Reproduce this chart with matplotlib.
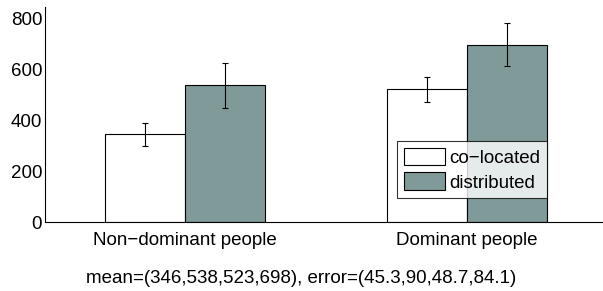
import matplotlib.pyplot as plt
import numpy as np
from matplotlib.patches import Patch

plt.rcParams['font.family'] = ['Liberation Sans', 'DejaVu Sans']

groups = ['Non\u2212dominant people', 'Dominant people']
series = ['co\u2212located', 'distributed']
means = {'co\u2212located': [346, 523], 'distributed': [538, 698]}
errors = {'co\u2212located': [45.3, 48.7], 'distributed': [90, 84.1]}
colors = {'co\u2212located': 'white', 'distributed': '#7f9a98'}
caption = 'mean=(346,538,523,698), error=(45.3,90,48.7,84.1)'

fig = plt.figure(figsize=(6.03, 2.91), dpi=100)
ax = fig.add_axes([0.0746, 0.237, 0.9254, 0.739])

x = np.arange(1, len(groups) + 1)
w = 0.285
for i, s in enumerate(series):
    pos = x + (i - 0.5) * w
    ax.bar(pos, means[s], width=w, color=colors[s], edgecolor='black', linewidth=0.8)
    ax.errorbar(pos, means[s], yerr=errors[s], fmt='none', ecolor='black',
                elinewidth=0.8, capsize=2.5, capthick=0.8)

ax.set_xlim(0.504, 2.482)
ax.set_ylim(0, 847)
ax.set_yticks([0, 200, 400, 600, 800])
ax.set_xticks(x)
ax.set_xticklabels(groups)
ax.tick_params(axis='both', length=0, labelsize=13.5, pad=2)
ax.tick_params(axis='x', pad=7)
for side in ['top', 'right']:
    ax.spines[side].set_visible(False)
ax.spines['left'].set_linewidth(0.8)
ax.spines['bottom'].set_linewidth(0.8)

handles = [Patch(facecolor=colors[s], edgecolor='black', linewidth=0.8, label=s) for s in series]
leg = ax.legend(handles=handles, loc='upper right', bbox_to_anchor=(0.9, 0.377),
                fontsize=13.5, frameon=True, fancybox=False, edgecolor='black',
                handlelength=2.2, handleheight=1.07, handletextpad=0.25,
                borderpad=0.35, labelspacing=0.3, borderaxespad=0)
leg.get_frame().set_linewidth(0.8)

fig.text(0.5, 0.044, caption, ha='center', va='center', fontsize=13.5)

fig.savefig('out.png', dpi=100)
